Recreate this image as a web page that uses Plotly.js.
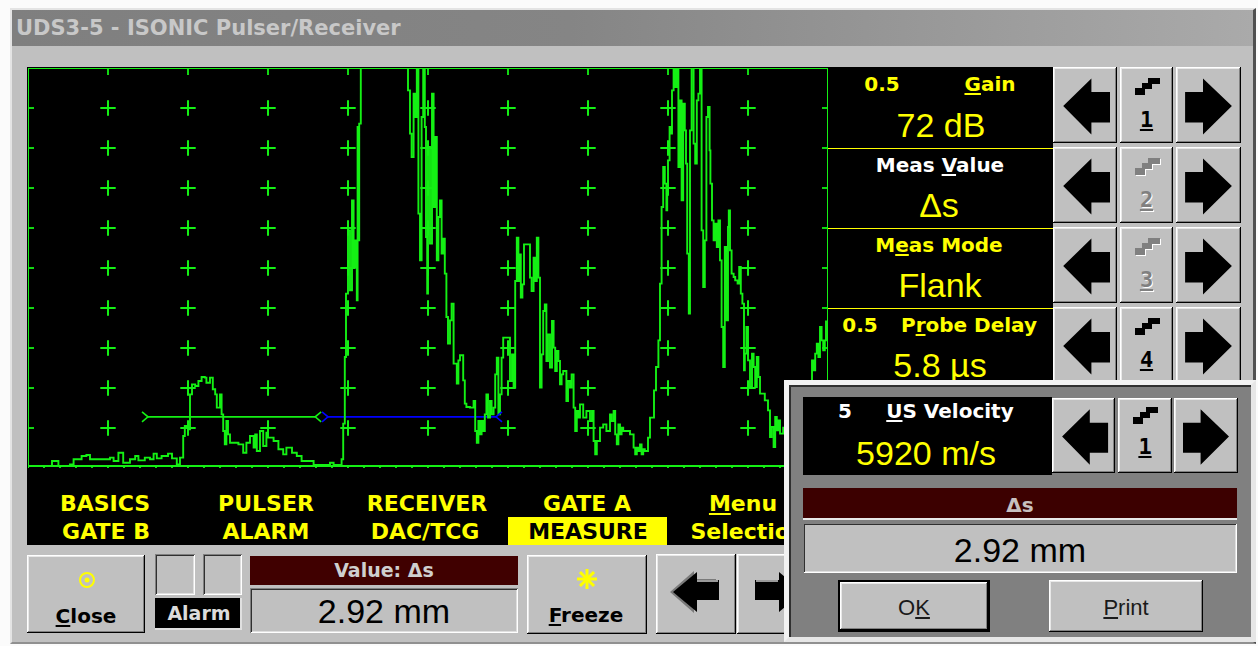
<!DOCTYPE html>
<html><head><meta charset="utf-8">
<script src="https://cdn.plot.ly/plotly-3.0.1.min.js"></script>
<style>
html,body{margin:0;padding:0;width:1258px;height:646px;overflow:hidden;background:#fbfbfb;position:relative;}
.a{position:absolute;box-sizing:border-box;}
.raised{background:#c0c0c0;box-shadow:inset -1px -1px 0 #000,inset 1px 1px 0 #fff,inset -2px -2px 0 #808080,inset 2px 2px 0 #e8e8e8;}
.sunken{background:#c0c0c0;box-shadow:inset 1px 1px 0 #808080,inset -1px -1px 0 #fff,inset 2px 2px 0 #303030,inset -2px -2px 0 #dfdfdf;}
.t{position:absolute;white-space:nowrap;text-align:center;}
.t u{text-underline-offset:2px;text-decoration-thickness:2px;}
#plot{position:absolute;left:0;top:0;width:1258px;height:646px;z-index:2;}
</style></head><body>
<div id="plot"></div>
<script>
// ---------------- DATA ----------------
const gridCols = [10, 20, 30, 40, 50, 60, 70, 80, 90];
const gridRows = [10, 20, 30, 40, 50, 60, 70, 80, 90];
const baseTicks = [0,2,4,6,8,10,12,14,16,18,20,22,24,26,28,30,32,34,36,38,40,42,44,46,48,50,
                   52,54,56,58,60,62,64,66,68,70,72,74,76,78,80,82,84,86,88,90,92,94,96,98,100];
const gateAX = [15.0, 35.9];
const gateAY = [12.8, 12.8];
const gateBX = [37.5, 58.5];
const gateBY = [12.8, 12.8];

// A-scan samples [screen %, amplitude %]
const noiseAndFirstEcho = [[0,0.5],[2.1,0.5],[3.0,1.75],[3.8,0.5],[5.25,0.9],[5.7,2.2],[6.7,3.0],[7.3,3.25],[7.75,2.2],[9.4,2.2],[10.25,2.6],[10.7,1.75],[11.3,3.8],[11.9,1.3],[12.75,2.2],[13.4,3.0],[13.8,1.9],[14.6,2.6],[15.25,2.2],[15.7,3.6],[16.1,2.4],[16.7,3.0],[17.5,3.6],[18.0,2.4],[18.6,0.9],[19.0,2.6],[19.4,8.0],[19.6,10.5],[20.0,9.7],[20.25,18.4],[20.5,20.9],[20.9,20.5],[21.3,21.75],[21.7,22.75],[22.1,22.6],[22.3,21.3],[22.75,22.6],[23.1,19.7],[23.4,18.4],[23.6,15.1],[24.0,18.4],[24.2,13.4],[24.4,9.25],[24.6,5.9],[24.8,11.75],[25.0,8.4],[25.25,6.3],[25.7,6.3],[26.3,5.9],[26.9,3.8],[27.3,6.3],[27.75,8.0],[28.2,5.1],[28.4,8.4],[28.6,4.25],[29.0,9.25],[29.4,5.5],[29.8,8.8],[30.0,7.6],[30.7,6.75],[31.3,4.7],[31.9,3.4],[32.3,5.1],[33.0,3.8],[33.6,3.0],[34.2,1.75],[35.25,1.75],[35.7,0.75],[36.9,0.75],[37.75,1.3],[38.2,0.75],[38.8,0.75],[39.2,2.2]];
const backwallEcho1 = [[39.4,11.1],[39.6,27.75],[39.75,43.6],[40.0,59.4],[40.25,44.4],[40.5,66.9],[40.7,50.25],[40.9,56.9],[41.1,41.9],[41.2,85.25],[41.3,56.9],[41.4,86.1],[41.6,106],[47.4,106],[47.5,94.4],[47.75,83.6],[47.95,77.75],[48.2,93.6],[48.4,87.75],[48.6,106],[48.8,63.6],[49.0,51.9],[49.2,87.75],[49.4,106],[49.6,85.25],[49.75,57.75],[49.9,43.6],[50.0,80.25],[50.25,56.1],[50.5,93.6],[50.7,65.25],[50.9,82.75],[51.1,51.9],[51.3,62.75],[51.5,66.9],[51.7,53.6],[51.9,57.3],[52.1,48.6],[52.3,37.75],[52.5,31.1],[52.75,36.9],[52.95,41.1],[53.2,26.1],[53.6,21.1],[53.8,26.9],[54.0,28.2],[54.4,21.9],[54.6,16.1],[54.8,15.25]];
const middleEcho = [[55.25,15.1],[55.7,16.75],[55.9,9.25],[56.1,6.3],[56.3,11.75],[56.5,8.4],[56.7,11.75],[56.9,9.25],[57.1,13.4],[57.3,18.4],[57.5,12.6],[57.75,16.75],[57.95,13.4],[58.2,15.1],[58.4,23.4],[58.6,27.6],[58.8,13.4],[59.0,18.4],[59.2,27.6],[59.4,32.6],[60.0,32.6],[60.25,21.75],[60.5,28.4],[60.7,20.1],[60.9,46.75],[61.1,57.6],[61.3,46.75],[61.5,53.4],[61.6,42.6],[61.8,45.9],[62.0,55.9],[62.5,55.9],[62.75,47.6],[62.95,44.25],[63.2,52.6],[63.4,46.75],[63.6,57.6],[63.8,47.6],[64.0,20.1],[64.2,28.4],[64.4,39.25],[64.6,40.9],[64.8,26.75],[65.0,33.4],[65.25,25.1],[65.5,36.75],[65.7,30.1],[65.9,24.25],[66.1,29.25],[66.3,26.75],[66.5,20.9],[66.7,23.4],[66.9,24.25],[67.3,16.75],[67.5,21.75],[67.75,20.1],[67.95,23.4],[68.2,15.1],[68.4,9.25],[68.6,14.25],[68.8,12.6],[69.0,15.9],[69.4,12.6],[69.8,14.25],[70.25,11.75],[70.5,14.25],[70.7,6.75],[70.9,3.4],[71.1,6.75],[71.5,10.1],[71.9,10.9],[72.3,9.25],[72.75,13.4],[72.95,11.75],[73.2,14.25],[73.4,8.4],[73.6,5.9],[73.8,10.9],[74.0,8.4],[74.2,10.1],[74.4,9.25],[74.8,9.25],[75.25,8.4],[75.7,5.1],[75.9,3.4],[76.1,5.1],[76.3,4.25],[76.5,5.9],[76.7,3.4],[76.9,4.7],[77.1,4.25],[77.5,7.6],[77.75,12.6]];
const backwallEcho2 = [[78.25,19.4],[78.5,25.25],[78.8,31.9],[79.0,46.1],[79.2,65.25],[79.4,75.25],[79.6,71.1],[79.8,64.4],[79.9,70.25],[80.0,76.9],[80.2,85.25],[80.3,83.6],[80.5,94.4],[80.7,106],[80.9,95.25],[81.1,106],[81.3,75.25],[81.5,91.9],[81.7,66.9],[81.9,91.1],[82.1,84.4],[82.25,76.1],[82.4,53.6],[82.6,38.6],[82.75,84.4],[82.95,106],[83.2,81.1],[83.4,76.1],[83.6,91.9],[83.8,93.6],[84.0,106],[84.2,59.4],[84.4,45.25],[84.6,56.9],[84.8,87.75],[85.0,90.25],[85.2,79.4],[85.3,71.1],[85.5,61.9],[85.7,56.9],[85.9,61.1],[86.1,55.25],[86.3,61.9],[86.5,51.9],[86.7,35.25],[86.9,25.25],[87.1,55.25],[87.3,36.9],[87.5,60.25],[87.6,64.4],[87.75,54.4],[87.95,48.6],[88.2,47.75],[88.4,46.9],[88.7,46.1],[88.9,50.25],[89.1,43.6],[89.3,41.1],[89.5,24.4],[89.6,28.6],[89.8,35.25],[90.0,26.9],[90.25,20.25],[90.5,28.6],[90.7,25.25],[90.9,20.25],[91.1,27.75],[91.3,22.75],[91.5,18.6],[91.9,18.6],[92.1,16.9],[92.5,14.4],[92.75,7.75],[92.95,10.25],[93.2,5.25],[93.4,12.75],[93.6,9.4],[93.8,11.9],[94.0,8.6],[94.4,10.1],[95.25,6.75],[96.1,9.25],[96.9,14.25],[98.0,26.9],[98.2,24.4],[98.4,28.6],[98.6,31.1],[98.8,27.75],[99.0,35.25],[99.2,31.9],[99.4,29.4],[99.6,31.9],[99.75,36.9]];

// ---------------- PLOT ----------------
const G = '#14f014';
const wave = noiseAndFirstEcho.concat(backwallEcho1, middleEcho, backwallEcho2);
const crossX = [], crossY = [];
gridCols.forEach(c => gridRows.forEach(r => { crossX.push(c); crossY.push(r); }));

const traces = [
  {x: crossX, y: crossY, type: 'scatter', mode: 'markers', hoverinfo: 'skip',
   marker: {symbol: 'cross-thin', size: 11, color: G, line: {color: G, width: 2}}},
  {x: gateAX, y: gateAY, type: 'scatter', mode: 'lines', line: {color: G, width: 1.8}},
  {x: gateBX, y: gateBY, type: 'scatter', mode: 'lines', line: {color: '#0000ff', width: 1.8}},
  {x: wave.map(p => p[0]), y: wave.map(p => p[1]), type: 'scatter', mode: 'lines',
   line: {color: G, width: 1.9, shape: 'hv'}}
];

const shapes = [];
const L = (o) => shapes.push(Object.assign({type: 'line', xref: 'x', yref: 'y', line: {color: G, width: 2}}, o));
L({x0: 0, x1: 0, y0: 0, y1: 100});
L({x0: 0, x1: 100, y0: 100, y1: 100});
L({x0: 100, x1: 100, y0: 0, y1: 100});
L({x0: 0, x1: 100, ysizemode: 'pixel', yanchor: 0, y0: 2, y1: 2});
baseTicks.forEach(v => L({x0: v, x1: v, ysizemode: 'pixel', yanchor: 0, y0: 2, y1: (v % 10 === 0 ? -12 : -5), line: {color: G, width: 1.8}}));
gridCols.forEach(v => L({x0: v, x1: v, ysizemode: 'pixel', yanchor: 100, y0: 0, y1: -7, line: {color: G, width: 1.8}}));
gridRows.forEach(v => {
  L({y0: v, y1: v, xsizemode: 'pixel', xanchor: 0, x0: 0, x1: 6, line: {color: G, width: 1.8}});
  L({y0: v, y1: v, xsizemode: 'pixel', xanchor: 100, x0: 0, x1: -6, line: {color: G, width: 1.8}});
});
function bracket(x, y, side, color) {
  shapes.push({type: 'path', xref: 'x', yref: 'y', xsizemode: 'pixel', ysizemode: 'pixel',
    xanchor: x, yanchor: y, path: side < 0 ? 'M-6,5L0,0L-6,-5' : 'M6,5L0,0L6,-5',
    line: {color: color, width: 1.6}});
}
bracket(gateAX[0], gateAY[0], -1, G); bracket(gateAX[1], gateAY[1], 1, G);
bracket(gateBX[0], gateBY[0], -1, '#0000ff'); bracket(gateBX[1], gateBY[1], 1, '#0000ff');

Plotly.newPlot('plot', traces, {
  width: 1258, height: 646, margin: {l: 28, r: 430, t: 68, b: 178, pad: 0},
  paper_bgcolor: 'rgba(0,0,0,0)', plot_bgcolor: 'rgba(0,0,0,0)', showlegend: false,
  xaxis: {range: [0, 100], visible: false, fixedrange: true},
  yaxis: {range: [0, 100], visible: false, fixedrange: true},
  shapes: shapes
}, {staticPlot: true, displayModeBar: false});

// ---------------- UI CHROME ----------------
const DJ = '"DejaVu Sans", sans-serif';
const LS = '"Liberation Sans", Arial, sans-serif';
const MONO = '"DejaVu Sans Mono", monospace';
const YEL = '#ffff00';
function box(x0, y0, x1, y1, cls, st) {
  const d = document.createElement('div');
  d.className = 'a ' + (cls || '');
  Object.assign(d.style, {left: x0 + 'px', top: y0 + 'px', width: (x1 - x0) + 'px', height: (y1 - y0) + 'px'}, st || {});
  document.body.appendChild(d); return d;
}
function txt(cx, cy, html, size, fam, bold, color, z, extra) {
  const d = document.createElement('div');
  d.className = 't'; d.innerHTML = html;
  const H = Math.round(size * 1.6);
  Object.assign(d.style, {left: (cx - 200) + 'px', width: '400px', top: (cy - H / 2) + 'px', height: H + 'px',
    lineHeight: H + 'px', fontSize: size + 'px', fontFamily: fam, fontWeight: bold ? 'bold' : 'normal',
    color: color, zIndex: z || 3}, extra || {});
  document.body.appendChild(d); return d;
}
function svgIn(el, inner) {
  const w = parseFloat(el.style.width), h = parseFloat(el.style.height);
  el.innerHTML += '<svg width="' + w + '" height="' + h + '" style="position:absolute;left:0;top:0" xmlns="http://www.w3.org/2000/svg">' + inner + '</svg>';
}
function arrowBtn(x0, y0, x1, y1, dir, z) {
  const b = box(x0, y0, x1, y1, 'raised', {zIndex: z || 3});
  const w = x1 - x0, h = y1 - y0;
  let p;
  if (dir < 0) p = [[0.16, 0.515], [0.6, 0.15], [0.6, 0.33], [0.89, 0.33], [0.89, 0.73], [0.6, 0.73], [0.6, 0.89]];
  else p = [[0.86, 0.515], [0.415, 0.15], [0.415, 0.33], [0.14, 0.33], [0.14, 0.73], [0.415, 0.73], [0.415, 0.89]];
  svgIn(b, '<polygon fill="#000" points="' + p.map(q => (q[0] * w).toFixed(1) + ',' + (q[1] * h).toFixed(1)).join(' ') + '"/>');
}
function stepBtn(x0, y0, x1, y1, num, enabled, iy, ny, z) {
  const b = box(x0, y0, x1, y1, 'raised', {zIndex: z || 3});
  const ix = 15;
  const col = enabled ? '#000' : '#808080';
  let s = '';
  const rects = [[13, 0, 12, 6], [7, 5, 10, 6], [0, 10, 10, 7]];
  if (!enabled) rects.forEach(r => s += '<rect fill="#fff" x="' + (ix + r[0] + 1) + '" y="' + (iy + r[1] + 1) + '" width="' + r[2] + '" height="' + r[3] + '"/>');
  rects.forEach(r => s += '<rect fill="' + col + '" x="' + (ix + r[0]) + '" y="' + (iy + r[1]) + '" width="' + r[2] + '" height="' + r[3] + '"/>');
  svgIn(b, s);
  txt((x0 + x1) / 2, y0 + ny, '<u>' + num + '</u>', 22, MONO, true, col, (z || 3) + 1,
      enabled ? {} : {textShadow: '1px 1px 0 #fff'});
}

// window & title
box(10, 8, 1256, 644, '', {background: '#c0c0c0', borderTop: '2px solid #e4e4e4', borderLeft: '2px solid #e4e4e4', borderRight: '3px solid #505050', borderBottom: '2px solid #909090', zIndex: 0});
box(12, 10, 1253, 46, '', {background: 'linear-gradient(to right,#7f7f7f 0%,#858585 45%,#aaaaaa 100%)', zIndex: 1});
const title = txt(0, 28, 'UDS3-5 - ISONIC Pulser/Receiver', 21, DJ, true, '#c8c8c8', 2);
title.style.left = '16px'; title.style.textAlign = 'left';

// black screen areas
box(27, 67, 829, 545, '', {background: '#000', zIndex: 1});
box(827, 67, 1053, 381, '', {background: '#000', zIndex: 1});
[148, 228, 308].forEach(y => box(828, y, 1053, y + 1, '', {background: YEL, zIndex: 2}));

// menu
const MB = (cx, cy, s, c) => txt(cx, cy, s, 22, DJ, true, c || YEL, 3);
MB(105, 503, 'BASICS'); MB(106, 531, 'GATE B');
MB(266, 503, 'PULSER'); MB(266, 531, 'ALARM');
MB(427, 503, 'RECEIVER'); MB(425, 531, 'DAC/TCG');
MB(587, 503, 'GATE A');
box(508, 517, 667, 545, '', {background: YEL, zIndex: 2});
MB(588, 531, 'MEASURE', '#000');
MB(743, 503, '<u>M</u>enu'); MB(748, 531, 'Selection');

// right parameter panel
const PL = (cx, cy, s, c) => txt(cx, cy, s, 20, DJ, true, c || YEL, 3);
const PV = (cx, cy, s) => txt(cx, cy, s, 34, LS, false, YEL, 3);
PL(882, 84, '0.5'); PL(990, 84, '<u>G</u>ain'); PV(941, 125, '72 dB');
PL(940, 165, 'Meas <u>V</u>alue', '#ffffff'); PV(939, 205, 'Δs');
PL(939, 245, 'M<u>e</u>as Mode'); PV(940, 285, 'Flank');
PL(860, 325, '0.5'); PL(969, 325, 'P<u>r</u>obe Delay'); PV(940, 365, '5.8 µs');
[0, 1, 2, 3].forEach(i => {
  const y0 = 67 + 80 * i, y1 = 143 + 80 * i;
  arrowBtn(1053, y0, 1117, y1, -1);
  stepBtn(1120, y0, 1173, y1, String(i + 1), i === 0 || i === 3, 11, 52);
  arrowBtn(1176, y0, 1241, y1, 1);
});

// bottom controls
const close = box(27, 555, 145, 633, 'raised', {zIndex: 3});
svgIn(close, '<circle cx="60" cy="25" r="7" fill="none" stroke="#ffff00" stroke-width="2"/><circle cx="60" cy="25" r="2.5" fill="#ffff00"/>');
txt(86, 616, '<u>C</u>lose', 20, DJ, true, '#000', 4);
box(155, 554, 195, 595, 'sunken', {zIndex: 3});
box(203, 554, 242, 595, 'sunken', {zIndex: 3});
box(155, 598, 242, 630, '', {background: '#000', borderBottom: '2px solid #e0e0e0', borderRight: '2px solid #e0e0e0', zIndex: 3});
txt(199, 613, 'Alarm', 19, DJ, true, '#dcdcdc', 4);
box(250, 556, 518, 585, '', {background: '#400000', zIndex: 3});
txt(384, 570, 'Value: Δs', 19, DJ, true, '#cfcfcf', 4);
box(250, 588, 518, 633, 'sunken', {zIndex: 3});
txt(384, 611, '2.92 mm', 34, LS, false, '#000', 4);
const frz = box(527, 555, 647, 634, 'raised', {zIndex: 3});
svgIn(frz, '<g stroke="#ffff00" stroke-width="3" stroke-linecap="butt"><line x1="50" y1="24" x2="70" y2="24"/><line x1="60" y1="14" x2="60" y2="34"/><line x1="53" y1="17" x2="67" y2="31"/><line x1="67" y1="17" x2="53" y2="31"/></g>');
txt(586, 615, '<u>F</u>reeze', 20, DJ, true, '#000', 4);
const lb = box(656, 554, 736, 634, 'raised', {zIndex: 3});
svgIn(lb, '<polygon fill="#7a7a7a" points="14,38 38,17 38,25 60,25 60,45 38,45 38,59"/><polygon fill="#000" points="17,38 41,18 41,26 63,26 63,46 41,46 41,58"/><line x1="41" y1="27" x2="62" y2="27" stroke="#9a9a9a" stroke-width="2"/>');
const rb = box(737, 554, 822, 634, 'raised', {zIndex: 3});
svgIn(rb, '<polygon fill="#000" points="66,38 42,18 42,26 18,26 18,46 42,46 42,58"/><line x1="19" y1="27" x2="41" y2="27" stroke="#9a9a9a" stroke-width="2"/>');

// dialog
box(784, 380, 1256, 642, '', {background: '#808080', borderTop: '5px solid #f2f2f2', borderLeft: '5px solid #f2f2f2',
  borderRight: '5px solid #e6e6e6', borderBottom: '5px solid #e6e6e6', boxShadow: 'inset 2px 2px 0 #303030', zIndex: 5});
box(803, 397, 1052, 475, '', {background: '#000', zIndex: 6});
txt(845, 411, '5', 20, DJ, true, '#ffffff', 7);
txt(950, 411, '<u>U</u>S Velocity', 20, DJ, true, '#ffffff', 7);
txt(926, 453, '5920 m/s', 34, LS, false, YEL, 7);
arrowBtn(1052, 398, 1115, 473, -1, 6);
stepBtn(1118, 398, 1172, 473, '1', true, 9, 48, 6);
arrowBtn(1174, 398, 1238, 473, 1, 6);
box(803, 488, 1237, 520, '', {background: '#3c0000', borderBottom: '2px solid #e8e8e8', zIndex: 6});
txt(1020, 505, 'Δs', 20, DJ, true, '#c8c0c0', 7);
box(803, 523, 1237, 573, 'sunken', {zIndex: 6});
txt(1020, 550, '2.92 mm', 34, LS, false, '#000', 7);
box(838, 580, 990, 632, 'raised', {border: '2px solid #000', zIndex: 6});
txt(914, 607, 'O<u>K</u>', 22, LS, false, '#1a1a1a', 7);
box(1049, 580, 1203, 632, 'raised', {zIndex: 6});
txt(1126, 607, '<u>P</u>rint', 22, LS, false, '#1a1a1a', 7);
</script>
</body></html>
